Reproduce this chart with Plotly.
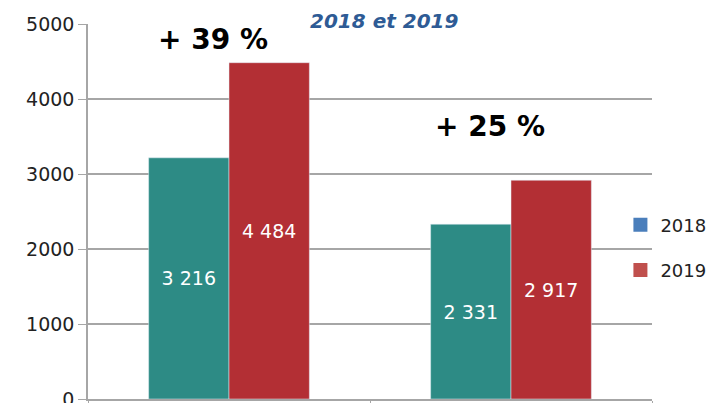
import plotly.graph_objects as go

categories = ["Groupe 1", "Groupe 2"]
years = ["2018", "2019"]
values_2018 = [3216, 2331]
values_2019 = [4484, 2917]
labels_2018 = ["3 216", "2 331"]
labels_2019 = ["4 484", "2 917"]
growth_labels = ["+ 39 %", "+ 25 %"]
y_ticks = [0, 1000, 2000, 3000, 4000, 5000]

bar_colors = ["#2d8b85", "#b32f34"]
legend_colors = ["#4a7ebb", "#c0504d"]
font_main = "DejaVu Sans, Liberation Sans, Arial, sans-serif"

fig = go.Figure()
for vals, labs, col in [(values_2018, labels_2018, bar_colors[0]),
                        (values_2019, labels_2019, bar_colors[1])]:
    fig.add_trace(go.Bar(
        x=categories, y=vals, text=labs, marker_color=col,
        textposition="inside", insidetextanchor="middle",
        textfont=dict(color="white", size=19, family=font_main),
        showlegend=False, cliponaxis=False,
    ))

for name, col in zip(years, legend_colors):
    fig.add_trace(go.Scatter(
        x=[None], y=[None], mode="markers", name=name, legendgroup=name,
        marker=dict(symbol="square", size=14, color=col),
    ))

fig.update_layout(
    width=717, height=403,
    margin=dict(l=80, r=73, t=16, b=12, autoexpand=False),
    paper_bgcolor="white", plot_bgcolor="white",
    barmode="group", bargap=0.43, bargroupgap=0,
    font=dict(family=font_main, size=19, color="#222222"),
    legend=dict(x=0.944, xanchor="left", y=0.404, yanchor="middle",
                tracegroupgap=19, font=dict(size=18, color="#222222"),
                bgcolor="rgba(0,0,0,0)", borderwidth=0, itemwidth=30),
    showlegend=True,
)
fig.update_xaxes(showticklabels=False, showline=True, linecolor="#a6a6a6",
                 linewidth=1.5, ticks="outside", tickson="boundaries",
                 ticklen=8, tickcolor="#a6a6a6", showgrid=False,
                 automargin=False)
fig.update_yaxes(range=[0, 5000], tickvals=y_ticks, showline=True,
                 linecolor="#a6a6a6", linewidth=1.5, gridcolor="#a6a6a6",
                 gridwidth=1.5, ticks="outside", ticklen=8, tickcolor="#a6a6a6",
                 zeroline=False, automargin=False,
                 tickfont=dict(size=19, color="#222222"))

fig.add_annotation(x=0.525, y=1.046, xref="paper", yref="paper",
                   text="<b><i>2018 et 2019</i></b>", showarrow=False,
                   font=dict(size=20, color="#2e5b95", family=font_main))
fig.add_annotation(x=-0.057, y=4787, xref="x", yref="y",
                   text="<b>" + growth_labels[0] + "</b>", showarrow=False,
                   font=dict(size=28, color="black", family=font_main))
fig.add_annotation(x=0.925, y=3627, xref="x", yref="y",
                   text="<b>" + growth_labels[1] + "</b>", showarrow=False,
                   font=dict(size=28, color="black", family=font_main))

fig.write_html("out.html")
